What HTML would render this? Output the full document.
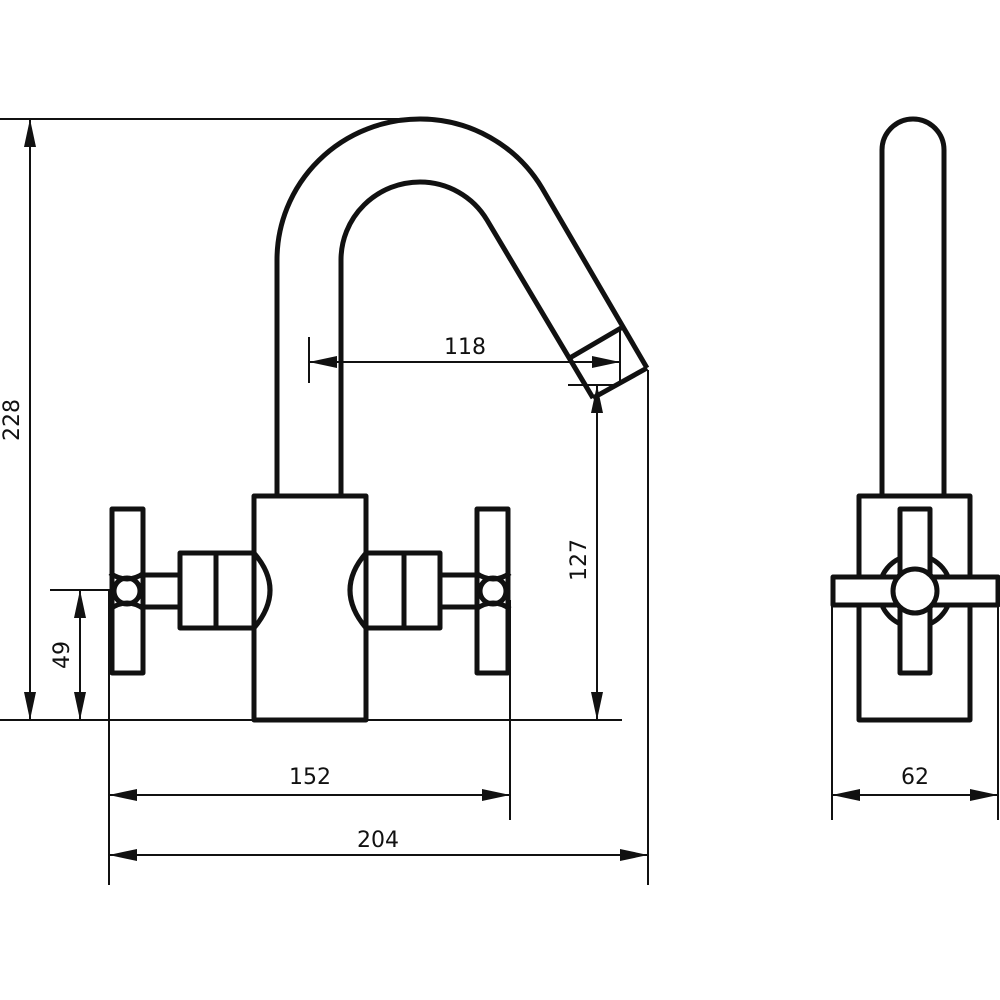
<!DOCTYPE html>
<html><head><meta charset="utf-8"><style>
html,body{margin:0;padding:0;background:#fff;}
svg{display:block;}
text{font-family:"DejaVu Sans","Liberation Sans",sans-serif;font-size:22px;fill:#111;}
</style></head><body>
<svg width="1000" height="1000" viewBox="0 0 1000 1000" xmlns="http://www.w3.org/2000/svg">
<defs>
<marker id="a" viewBox="0 0 28 12" refX="28" refY="6" markerWidth="28" markerHeight="12" markerUnits="userSpaceOnUse" orient="auto-start-reverse">
<path d="M0,0 L28,6 L0,12 Z" fill="#111"/>
</marker>
</defs>
<g fill="none" stroke="#111" stroke-width="2">
<line x1="0" y1="119" x2="420" y2="119"/>
<line x1="0" y1="720" x2="622" y2="720"/>
<line x1="30" y1="119" x2="30" y2="720" marker-start="url(#a)" marker-end="url(#a)"/>
<line x1="50" y1="590" x2="127" y2="590"/>
<line x1="80" y1="590" x2="80" y2="720" marker-start="url(#a)" marker-end="url(#a)"/>
<line x1="109" y1="590" x2="109" y2="885"/>
<line x1="510" y1="600" x2="510" y2="820"/>
<line x1="648" y1="370" x2="648" y2="885"/>
<line x1="109" y1="795" x2="510" y2="795" marker-start="url(#a)" marker-end="url(#a)"/>
<line x1="109" y1="855" x2="648" y2="855" marker-start="url(#a)" marker-end="url(#a)"/>
<line x1="309" y1="337" x2="309" y2="383"/>
<line x1="309" y1="362" x2="620" y2="362" marker-start="url(#a)" marker-end="url(#a)"/>
<line x1="620" y1="328" x2="620" y2="384"/>
<line x1="568" y1="385" x2="618" y2="385"/>
<line x1="597" y1="385" x2="597" y2="720" marker-start="url(#a)" marker-end="url(#a)"/>
<line x1="832" y1="605" x2="832" y2="820"/>
<line x1="998" y1="605" x2="998" y2="820"/>
<line x1="832" y1="795" x2="998" y2="795" marker-start="url(#a)" marker-end="url(#a)"/>
</g>
<g fill="none" stroke="#111" stroke-width="5" stroke-linejoin="round">
<path d="M277,496 L277,260 A143,141 0 0 1 420,119 A142,142 0 0 1 542,188 L647,368"/>
<path d="M341,496 L341,260 A79,78 0 0 1 420,182 A78,78 0 0 1 487,220 L593,398"/>
<path d="M568,359 L621,328 M593,398 L647,368"/>
<rect x="254" y="496" width="112" height="224"/>
<path d="M254,553 L180,553 L180,628 L254,628"/>
<line x1="216" y1="553" x2="216" y2="628"/>
<path d="M254,553 Q286,590 254,628"/>
<path d="M143,575 L180,575 M143,607 L180,607"/>
<rect x="112" y="509" width="31" height="164"/>
<circle cx="127" cy="591" r="13" fill="#fff"/>
<path d="M110,573 Q127,585 144,573 M110,609 Q127,597 144,609"/>
<path d="M366,553 L440,553 L440,628 L366,628"/>
<line x1="404" y1="553" x2="404" y2="628"/>
<path d="M366,553 Q334,590 366,628"/>
<path d="M477,575 L440,575 M477,607 L440,607"/>
<rect x="477" y="509" width="31" height="164"/>
<circle cx="493" cy="591" r="13" fill="#fff"/>
<path d="M476,573 Q493,585 510,573 M476,609 Q493,597 510,609"/>
<path d="M882,496 L882,150 A31,31 0 0 1 944,150 L944,496"/>
<rect x="859" y="496" width="111" height="224"/>
<circle cx="915" cy="591" r="36"/>
<rect x="900" y="509" width="30" height="164" fill="#fff"/>
<rect x="833" y="577" width="165" height="28" fill="#fff"/>
<circle cx="915" cy="591" r="22" fill="#fff"/>
</g>
<text x="310" y="784" text-anchor="middle">152</text>
<text x="378" y="847" text-anchor="middle">204</text>
<text x="465" y="354" text-anchor="middle">118</text>
<text x="915" y="784" text-anchor="middle">62</text>
<text transform="translate(19,420) rotate(-90)" text-anchor="middle">228</text>
<text transform="translate(69,655) rotate(-90)" text-anchor="middle">49</text>
<text transform="translate(586,560) rotate(-90)" text-anchor="middle">127</text>
</svg>
</body></html>
